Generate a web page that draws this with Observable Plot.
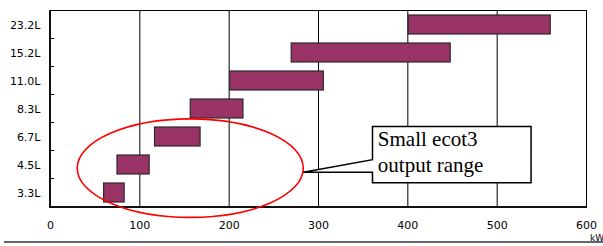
<!DOCTYPE html>
<html><head><meta charset="utf-8">
<script src="https://cdn.jsdelivr.net/npm/d3@7"></script>
<script src="https://cdn.jsdelivr.net/npm/@observablehq/plot@0.6"></script>
<style>body{margin:0;background:#fff} svg{display:block}</style>
</head><body><div id="chart"></div>
<script>
const categories = ["23.2L","15.2L","11.0L","8.3L","6.7L","4.5L","3.3L"];
const minKW = [401, 270, 201, 157, 117, 75, 60];
const maxKW = [560, 448, 306, 216, 168, 111, 83];
const xTicks = [0, 100, 200, 300, 400, 500, 600];
const gridTicks = [100, 200, 300, 400, 500];
const calloutLines = ["Small ecot3", "output range"];
const unitLabel = "kW";
// annotation anchors: x in kW, y in band steps above the bottom category centre
const ellipseSpec = {cx: 157, cy: 0.87, rx: 126.5, ry: 1.76};
const boxSpec = {x1: 361, x2: 538.5, top: 2.36, bottom: 0.345};
const pointerSpec = {tipY: 0.72, joinY: 1.17};
const textSpec = {x: 367, lines: [1.67, 0.75]};

const data = categories.map((c, i) => ({cat: c, lo: minKW[i], hi: maxKW[i]}));

const plot = Plot.plot({
  width: 603, height: 246,
  marginLeft: 50, marginRight: 17, marginTop: 10, marginBottom: 39,
  style: {fontFamily: "DejaVu Sans", fontSize: "11px", color: "#000", background: "#fff"},
  x: {domain: [0, 600], ticks: xTicks, tickSize: 0, tickPadding: 14, label: null},
  y: {domain: categories, paddingInner: 0.325, paddingOuter: 0.1625, tickSize: 0, tickPadding: 10, label: null},
  marks: [
    Plot.ruleX(gridTicks, {stroke: "#000", strokeWidth: 1}),
    Plot.barX(data, {y: "cat", x1: "lo", x2: "hi", fill: "#993366", stroke: "#2a2a2a", strokeWidth: 1.2}),
    Plot.frame({stroke: "#000"})
  ]
});
document.getElementById("chart").appendChild(plot);

const svg = d3.select(plot);
const xs = plot.scale("x"), ys = plot.scale("y");
const bw = ys.bandwidth;
const [yTop, yBot] = ys.range;
const step = ys.step || (yBot - yTop) / categories.length;
const baseY = ys.apply(categories[categories.length - 1]) + bw / 2;
const px = v => xs.apply(v);
const py = i => baseY - i * step;
const x0 = px(0), xEnd = px(600);

const g = svg.append("g").attr("text-anchor", "start");
// inner ticks at band boundaries
for (let i = 0; i < categories.length - 1; i++) {
  g.append("line").attr("x1", x0).attr("x2", x0 + 4)
    .attr("y1", py(i + 0.5)).attr("y2", py(i + 0.5)).attr("stroke", "#000");
}
// heavier left and bottom axis lines
g.append("line").attr("x1", x0).attr("x2", x0).attr("y1", yTop).attr("y2", yBot + 1)
  .attr("stroke", "#111").attr("stroke-width", 2);
g.append("line").attr("x1", x0 - 1).attr("x2", xEnd).attr("y1", yBot).attr("y2", yBot)
  .attr("stroke", "#111").attr("stroke-width", 2);

// red ellipse
g.append("ellipse")
  .attr("cx", px(ellipseSpec.cx)).attr("cy", py(ellipseSpec.cy))
  .attr("rx", px(ellipseSpec.cx + ellipseSpec.rx) - px(ellipseSpec.cx))
  .attr("ry", ellipseSpec.ry * step)
  .attr("fill", "none").attr("stroke", "#ff0000").attr("stroke-width", 1.6);

// callout
const bx1 = px(boxSpec.x1), bx2 = px(boxSpec.x2);
const by1 = py(boxSpec.top), by2 = py(boxSpec.bottom);
const tipX = px(ellipseSpec.cx + ellipseSpec.rx), tipY = py(pointerSpec.tipY);
const path = `M${bx1},${py(pointerSpec.joinY)} L${bx1},${by1} L${bx2},${by1} L${bx2},${by2} L${bx1},${by2} L${bx1},${tipY} L${tipX},${tipY} Z`;
g.append("path").attr("d", path).attr("fill", "#fff").attr("stroke", "#000").attr("stroke-width", 1.5);
calloutLines.forEach((t, i) => {
  g.append("text").attr("x", px(textSpec.x)).attr("y", py(textSpec.lines[i]))
    .attr("text-anchor", "start")
    .attr("font-family", "Liberation Serif").attr("font-size", 21).attr("fill", "#000").text(t);
});

// unit label
g.append("text").attr("x", xEnd + 4).attr("y", yBot + 34).attr("text-anchor", "start")
  .attr("font-family", "DejaVu Sans").attr("font-size", 9).attr("fill", "#000").text(unitLabel);
// bottom page rule
g.append("line").attr("x1", 4).attr("x2", 603).attr("y1", 242).attr("y2", 242)
  .attr("stroke", "#333").attr("stroke-width", 1.5);
</script>
</body></html>
